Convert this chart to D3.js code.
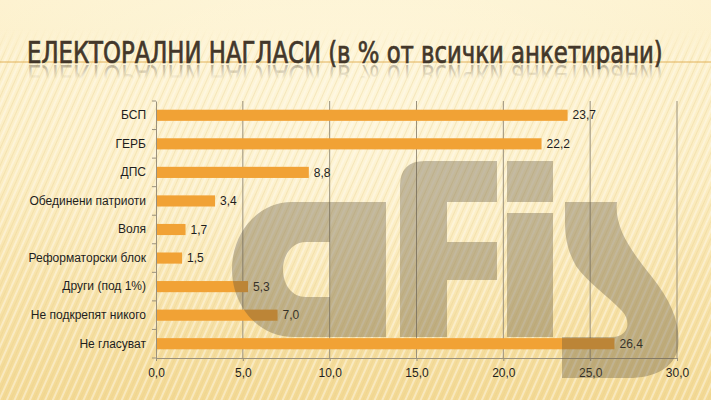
<!DOCTYPE html>
<html>
<head>
<meta charset="utf-8">
<script src="https://cdn.jsdelivr.net/npm/d3@7"></script>
<style>
  html, body { margin: 0; padding: 0; background: #fbecc0; }
  svg { display: block; }
</style>
</head>
<body>
<div class="container"></div>
<script>
const categories = ["БСП", "ГЕРБ", "ДПС", "Обединени  патриоти", "Воля", "Реформаторски блок", "Други (под 1%)", "Не подкрепят никого", "Не гласуват"]
const values = [23.7, 22.2, 8.8, 3.4, 1.7, 1.5, 5.3, 7.0, 26.4]
const xTicks = [0, 5, 10, 15, 20, 25, 30]
const title = "ЕЛЕКТОРАЛНИ НАГЛАСИ (в % от всички анкетирани)"

const width = 711
const height = 400
const margin = { top: 101, right: 34, bottom: 42, left: 156 }

let svg = d3.select(".container")
    .append("svg")
    .attr("width", width)
    .attr("height", height)
    .attr("viewBox", [0, 0, width, height])

let defs = svg.append("defs")

// background gradient
let bg = defs.append("linearGradient").attr("id", "bg").attr("x1", 0).attr("y1", 0).attr("x2", 0).attr("y2", 1)
bg.append("stop").attr("offset", "0%").attr("stop-color", "#fdf2d0")
bg.append("stop").attr("offset", "45%").attr("stop-color", "#fbebbd")
bg.append("stop").attr("offset", "100%").attr("stop-color", "#f3d994")

let glow = defs.append("radialGradient").attr("id", "glow").attr("cx", "50%").attr("cy", "30%").attr("r", "60%")
glow.append("stop").attr("offset", "0%").attr("stop-color", "#fffbe8").attr("stop-opacity", 0.6)
glow.append("stop").attr("offset", "100%").attr("stop-color", "#fffbe8").attr("stop-opacity", 0)

// diagonal stripes
let stripes = defs.append("pattern")
    .attr("id", "stripes")
    .attr("width", 7)
    .attr("height", 7)
    .attr("patternUnits", "userSpaceOnUse")
    .attr("patternTransform", "rotate(24)")
stripes.append("rect").attr("x", 0).attr("y", 0).attr("width", 2).attr("height", 7).attr("fill", "#fffaf0").attr("opacity", 0.45)
stripes.append("rect").attr("x", 4).attr("y", 0).attr("width", 1).attr("height", 7).attr("fill", "#e8cf88").attr("opacity", 0.35)

let fade = defs.append("linearGradient").attr("id", "fade").attr("x1", 0).attr("y1", 0).attr("x2", 0).attr("y2", 1)
fade.append("stop").attr("offset", "0%").attr("stop-color", "#fff").attr("stop-opacity", 0)
fade.append("stop").attr("offset", "7%").attr("stop-color", "#fff").attr("stop-opacity", 0)
fade.append("stop").attr("offset", "15%").attr("stop-color", "#fff").attr("stop-opacity", 1)
fade.append("stop").attr("offset", "100%").attr("stop-color", "#fff").attr("stop-opacity", 1)
defs.append("mask").attr("id", "stripeMask")
    .append("rect").attr("width", width).attr("height", height).attr("fill", "url(#fade)")

// reflection of the title fades out downward (in the title text's own coordinates: baseline at y = 0)
let refl = defs.append("linearGradient")
    .attr("id", "refl")
    .attr("gradientUnits", "userSpaceOnUse")
    .attr("x1", 0).attr("y1", 0).attr("x2", 0).attr("y2", -14)
refl.append("stop").attr("offset", "0%").attr("stop-color", "#43372a").attr("stop-opacity", 0.35)
refl.append("stop").attr("offset", "100%").attr("stop-color", "#43372a").attr("stop-opacity", 0)

svg.append("rect").attr("width", width).attr("height", height).attr("fill", "url(#bg)")
svg.append("rect").attr("width", width).attr("height", height).attr("fill", "url(#glow)")
svg.append("rect").attr("width", width).attr("height", height).attr("fill", "url(#stripes)").attr("mask", "url(#stripeMask)")

// title line + title with reflection
svg.append("line")
    .attr("x1", 0).attr("x2", width)
    .attr("y1", 62).attr("y2", 62)
    .attr("stroke", "#e2b25a")
    .attr("stroke-width", 1)

let titleG = svg.append("g")
    .attr("fill", "#43372a")
    .attr("stroke", "#43372a")

let titleText = titleG.append("text")
    .attr("id", "title")
    .attr("x", 0)
    .attr("y", 0)
    .attr("font-family", "'DejaVu Sans Condensed', sans-serif")
    .attr("font-size", 30)
    .attr("stroke-width", 0.7)
    .text(title)

// squeeze to the reference width, keeping the cap height
let natural = titleText.node().getComputedTextLength()
let sx = 636 / natural
titleText.attr("transform", `translate(27,63) scale(${sx},1)`)

svg.append("g")
    .attr("fill", "url(#refl)")
    .attr("stroke", "none")
    .append("use")
    .attr("href", "#title")
    .attr("transform", "translate(0,128) scale(1,-1)")

// scales
let x = d3.scaleLinear()
    .domain([0, 30])
    .range([margin.left, width - margin.right])

let y = d3.scaleBand()
    .domain(categories)
    .range([margin.top, height - margin.bottom])
    .paddingInner(0.61)
    .paddingOuter(0.305)

// gridlines
svg.append("g")
    .selectAll("line")
    .data(xTicks.slice(1))
    .enter()
    .append("line")
    .attr("x1", d => x(d)).attr("x2", d => x(d))
    .attr("y1", margin.top).attr("y2", height - margin.bottom)
    .attr("stroke", "#9a917c")
    .attr("stroke-width", 1)

// bars
svg.append("g")
    .selectAll("rect")
    .data(values)
    .enter()
    .append("rect")
    .attr("x", x(0))
    .attr("y", (d, i) => y(categories[i]))
    .attr("width", d => x(d) - x(0))
    .attr("height", y.bandwidth())
    .attr("fill", "#f1a235")

let fmt = d => d3.format(".1f")(d).replace(".", ",")

// value labels
svg.append("g")
    .selectAll("text")
    .data(values)
    .enter()
    .append("text")
    .attr("x", d => x(d) + 5)
    .attr("y", (d, i) => y(categories[i]) + y.bandwidth() / 2)
    .attr("dy", "0.35em")
    .attr("font-family", "'Liberation Sans', Arial, sans-serif")
    .attr("font-size", 12)
    .attr("fill", "#1e1e1e")
    .text(fmt)

// axes
let xAxis = svg.append("g")
    .attr("transform", `translate(0, ${height - margin.bottom})`)
    .call(d3.axisBottom(x).tickValues(xTicks).tickFormat(fmt).tickSize(3))
xAxis.select(".domain").attr("stroke", "#9a917c")
xAxis.selectAll(".tick line").attr("stroke", "#9a917c")
xAxis.selectAll("text")
    .attr("font-family", "'Liberation Sans', Arial, sans-serif")
    .attr("font-size", 12)
    .attr("fill", "#1e1e1e")
    .attr("dy", "1.05em")

let yAxis = svg.append("g")
    .attr("transform", `translate(${margin.left}, 0)`)
    .call(d3.axisLeft(y).tickSize(0).tickPadding(10))
yAxis.select(".domain").attr("stroke", "#9a917c")
yAxis.selectAll("text")
    .attr("font-family", "'Liberation Sans', Arial, sans-serif")
    .attr("font-size", 12)
    .attr("fill", "#1e1e1e")

// small ticks between categories
let step = y.step()
let top0 = y(categories[0]) - (step - y.bandwidth()) / 2
svg.append("g")
    .selectAll("line")
    .data(d3.range(categories.length + 1))
    .enter()
    .append("line")
    .attr("x1", margin.left - 4).attr("x2", margin.left)
    .attr("y1", i => top0 + i * step)
    .attr("y2", i => top0 + i * step)
    .attr("stroke", "#9a917c")

// afis watermark
let logo = svg.append("g")
    .attr("fill", "#5e533c")
    .attr("fill-opacity", 0.36)

logo.append("path")
    .attr("fill-rule", "evenodd")
    .attr("d", "M386,202 H292 C257,202 232,234 232,269 C232,306 258,337 294,337 H386 Z " +
               "M330,242 H306 C292,242 283,255 283,269 C283,285 292,297 306,297 H330 Z")
logo.append("path")
    .attr("d", "M400,337 V186 Q400,161 425,161 H497 V202 H447 V242 H497 V280 H447 V337 Z")
logo.append("path")
    .attr("d", "M507,161 H553 V202 H507 Z M507,213 H553 V337 H507 Z")
logo.append("path")
    .attr("d", "M565,202 H617 C614,228 632,252 652,277 C672,302 681,325 678,348 C674,368 655,378 628,378 " +
               "H562 V337 H612 C628,337 632,322 622,311 C608,296 588,283 576,266 C568,252 565,238 565,222 Z")
</script>
</body>
</html>
